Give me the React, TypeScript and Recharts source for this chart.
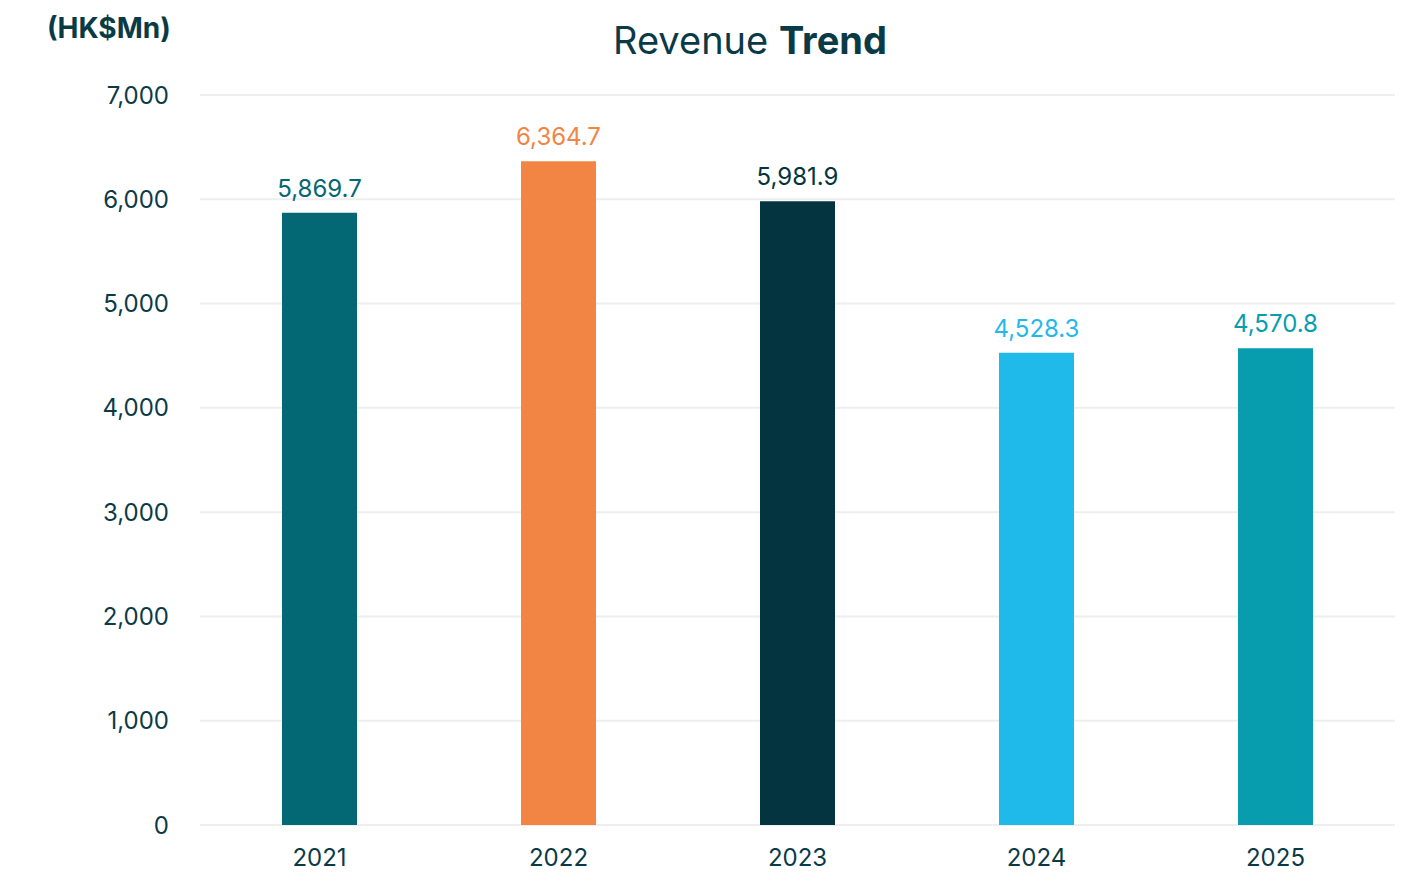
import React from "react";
import { BarChart, Bar, XAxis, YAxis, CartesianGrid, LabelList, Cell } from "recharts";

const years = ["2021", "2022", "2023", "2024", "2025"];
const revenue = [5869.7, 6364.7, 5981.9, 4528.3, 4570.8];
const barColors = ["#036873", "#F28444", "#033440", "#1FB9EA", "#089DAE"];
const yTicks = [0, 1000, 2000, 3000, 4000, 5000, 6000, 7000];

const data = years.map((y, i) => ({ year: y, value: revenue[i], color: barColors[i] }));

const FONT = "Inter, 'Noto Sans', sans-serif";
const TEXT = "#0B3A47";

const fmtThousands = (v: number) => v.toLocaleString("en-US");
const fmtLabel = (v: number) =>
  v.toLocaleString("en-US", { minimumFractionDigits: 1, maximumFractionDigits: 1 });

const TopLabel = (props: any) => {
  const { x, y, width, value, index } = props;
  return (
    <text
      x={x + width / 2}
      y={y - 16}
      textAnchor="middle"
      fill={barColors[index]}
      fontSize={24}
      fontFamily={FONT}
    >
      {fmtLabel(value)}
    </text>
  );
};

export default function App() {
  return (
    <div style={{ position: "absolute", left: 0, top: 0, width: 1417, height: 889, background: "#fff", fontFamily: FONT }}>
      <div style={{ position: "absolute", left: 47, top: 11, fontSize: 28, fontWeight: 700, color: TEXT }}>
        (HK$Mn)
      </div>
      <div style={{ position: "absolute", left: 0, width: 1500, top: 17, textAlign: "center", fontSize: 38, color: TEXT }}>
        Revenue <b>Trend</b>
      </div>
      <BarChart
        width={1417}
        height={889}
        data={data}
        margin={{ top: 95, right: 22, left: 0, bottom: 34 }}
      >
        <CartesianGrid horizontal vertical={false} stroke="#EEEEEE" strokeWidth={2} />
        <XAxis
          dataKey="year"
          axisLine={false}
          tickLine={false}
          tick={{ fill: TEXT, fontSize: 24, fontFamily: FONT }}
          tickMargin={18}
        />
        <YAxis
          width={200}
          domain={[0, 7000]}
          ticks={yTicks}
          axisLine={false}
          tickLine={false}
          tickFormatter={fmtThousands}
          tick={{ fill: TEXT, fontSize: 24, fontFamily: FONT }}
          tickMargin={25}
        />
        <Bar dataKey="value" isAnimationActive={false} barSize={75}>
          {data.map((d, i) => (
            <Cell key={i} fill={d.color} />
          ))}
          <LabelList dataKey="value" content={<TopLabel />} />
        </Bar>
      </BarChart>
    </div>
  );
}
